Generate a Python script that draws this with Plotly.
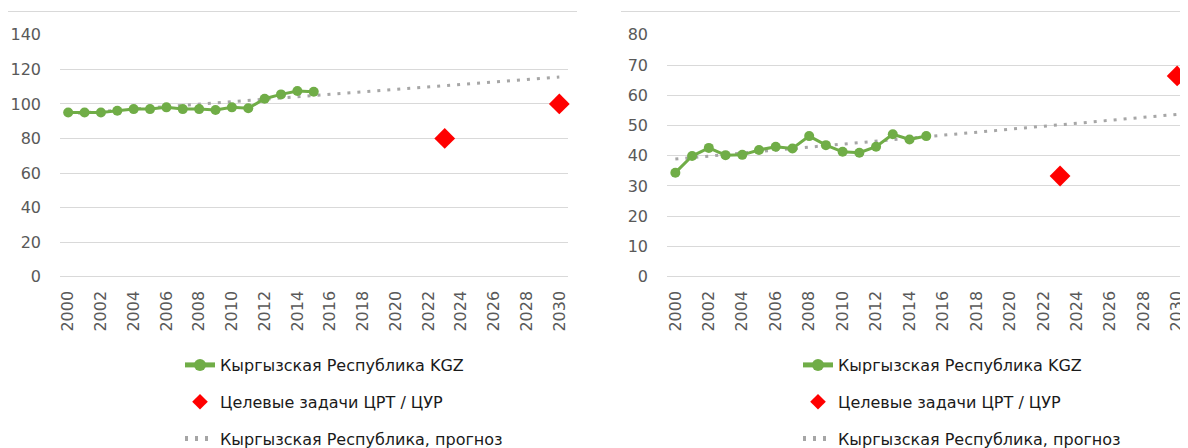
import plotly.graph_objects as go

# ---- data ----
years = list(range(2000, 2016))
kgz_left = [95, 95, 95, 96, 97, 97, 98, 97, 97, 96.5, 98, 97.5, 103, 105.5, 107.5, 107]
kgz_right = [34.4, 39.9, 42.6, 40.2, 40.3, 41.9, 43, 42.4, 46.5, 43.5, 41.3, 41, 43, 47.1, 45.4, 46.5]

target_years = [2023, 2030]
target_left = [80, 100]
target_right = [33.3, 66.4]

trend_years = [2000, 2030]
trend_left = [94.2, 115.5]
trend_right = [38.9, 53.7]

tick_years = list(range(2000, 2031, 2))
tick_labels = [str(y) for y in tick_years]

name_kgz = "Кыргызская Республика KGZ"
name_target = "Целевые задачи ЦРТ / ЦУР"
name_trend = "Кыргызская Республика, прогноз"

GREEN = "#70AD47"
RED = "#FF0000"
GRAY = "#A6A6A6"
TXT = "#595959"
GRID = "#D9D9D9"

# the page body adds an 8px offset; the figure fills the rest of the window
OFF = 8
W, H = 1188 - OFF, 448 - OFF


def px_x(sx):
    return (sx - OFF) / W


def px_y(sy):
    return 1 - (sy - OFF) / H


fig = go.Figure()


def add_panel(xa, ya, lg, kgz, target, trend):
    fig.add_trace(go.Scatter(x=trend_years, y=trend, name=name_trend, mode="lines",
                             line=dict(color=GRAY, width=3, dash="3px,7px"),
                             xaxis=xa, yaxis=ya, legend=lg, legendgroup=lg + "c", legendrank=3))
    fig.add_trace(go.Scatter(x=years, y=kgz, name=name_kgz, mode="lines+markers",
                             line=dict(color=GREEN, width=3), marker=dict(color=GREEN, size=10),
                             cliponaxis=False,
                             xaxis=xa, yaxis=ya, legend=lg, legendgroup=lg + "a", legendrank=1))
    fig.add_trace(go.Scatter(x=target_years, y=target, name=name_target, mode="markers",
                             marker=dict(color=RED, size=16, symbol="diamond"),
                             cliponaxis=False,
                             xaxis=xa, yaxis=ya, legend=lg, legendgroup=lg + "b", legendrank=2))


add_panel("x", "y", "legend", kgz_left, target_left, trend_left)
add_panel("x2", "y2", "legend2", kgz_right, target_right, trend_right)

tickfont = dict(family="DejaVu Sans", size=16, color=TXT)
ydom = [px_y(276.7), px_y(34.7)]

xcommon = dict(range=[1999.5, 2030.5], tickvals=tick_years, ticktext=tick_labels, tickangle=-90,
               showgrid=False, zeroline=False, showline=False, ticks="", tickfont=tickfont,
               ticklabelstandoff=10)
ycommon = dict(showgrid=True, gridcolor=GRID, gridwidth=1, zeroline=True, zerolinecolor=GRID,
               zerolinewidth=1, showline=False, ticks="", tickfont=tickfont, ticklabelstandoff=18)

legfont = dict(family="DejaVu Sans", size=16, color="#1a1a1a")
legcommon = dict(font=legfont, orientation="v", traceorder="grouped", tracegroupgap=13,
                 bgcolor="rgba(0,0,0,0)", xanchor="left", yanchor="top", itemsizing="constant")

fig.update_layout(
    width=W, height=H,
    margin=dict(l=0, r=0, t=0, b=0, autoexpand=False),
    paper_bgcolor="white", plot_bgcolor="white",
    xaxis=dict(domain=[px_x(60), px_x(567.5)], anchor="y", **xcommon),
    yaxis=dict(domain=ydom, anchor="x", range=[0, 140.05], dtick=20, **ycommon),
    xaxis2=dict(domain=[px_x(667), px_x(1185.5)], anchor="y2", **xcommon),
    yaxis2=dict(domain=ydom, anchor="x2", range=[0, 80.03], dtick=10, **ycommon),
    legend=dict(x=px_x(180), y=px_y(348), **legcommon),
    legend2=dict(x=px_x(798), y=px_y(348), **legcommon),
    shapes=[
        dict(type="line", xref="paper", yref="paper", x0=0, x1=px_x(577), y0=px_y(11.5), y1=px_y(11.5),
             line=dict(color=GRID, width=1)),
        dict(type="line", xref="paper", yref="paper", x0=px_x(621), x1=1, y0=px_y(11.5), y1=px_y(11.5),
             line=dict(color=GRID, width=1)),
    ],
    showlegend=True,
)

fig.write_html("out.html")
